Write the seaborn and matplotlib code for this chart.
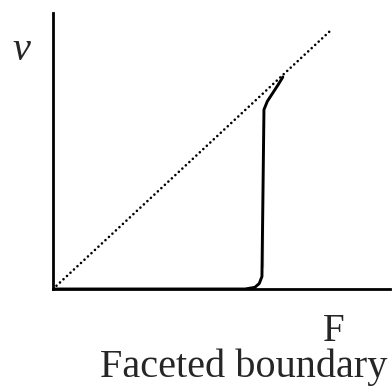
import numpy as np
import pandas as pd
import seaborn as sns
import matplotlib.pyplot as plt

# Sketch of velocity v vs driving force F (faceted boundary)
# dotted line: linear (ideal) response
linear_F = [0.0, 0.825]
linear_v = [0.0, 0.938]

# solid curve: nothing until a threshold, then a sharp rise, joining the line
curve_F = [0.0, 0.570, 0.599, 0.612, 0.620, 0.623, 0.623, 0.623, 0.626, 0.636, 0.652, 0.668, 0.682]
curve_v = [0.0, 0.000, 0.006, 0.020, 0.045, 0.080, 0.350, 0.610, 0.650, 0.680, 0.710, 0.740, 0.768]

sns.set_style('white')
plt.rcParams['font.family'] = ['Liberation Serif', 'DejaVu Serif']

fig = plt.figure(figsize=(3.92, 3.92), dpi=100)
ax = fig.add_axes([53/392, 103/392, 337/392, 276/392])

lin = pd.DataFrame({'F': linear_F, 'v': linear_v})
cur = pd.DataFrame({'F': curve_F, 'v': curve_v})
sns.lineplot(data=lin, x='F', y='v', ax=ax, color='black', lw=1.9,
             linestyle=(0, (0.01, 1.8)), dash_capstyle='round', sort=False)
sns.lineplot(data=cur, x='F', y='v', ax=ax, color='black', lw=2.1, sort=False)

ax.set_xlim(0, 1)
ax.set_ylim(0, 1)
ax.set_xticks([])
ax.set_yticks([])
ax.set_xlabel('')
ax.set_ylabel('')
for s in ['top', 'right']:
    ax.spines[s].set_visible(False)
for s in ['left', 'bottom']:
    ax.spines[s].set_linewidth(2.0)
    ax.spines[s].set_color('black')

fig.text(0.054, 0.87, 'v', fontsize=29, style='italic', ha='center', va='center')
fig.text(0.85, 0.130, 'F', fontsize=28, ha='center', va='baseline')
fig.text(0.622, 0.038, 'Faceted boundary', fontsize=29, ha='center', va='baseline')

fig.savefig('out.png', dpi=100)
